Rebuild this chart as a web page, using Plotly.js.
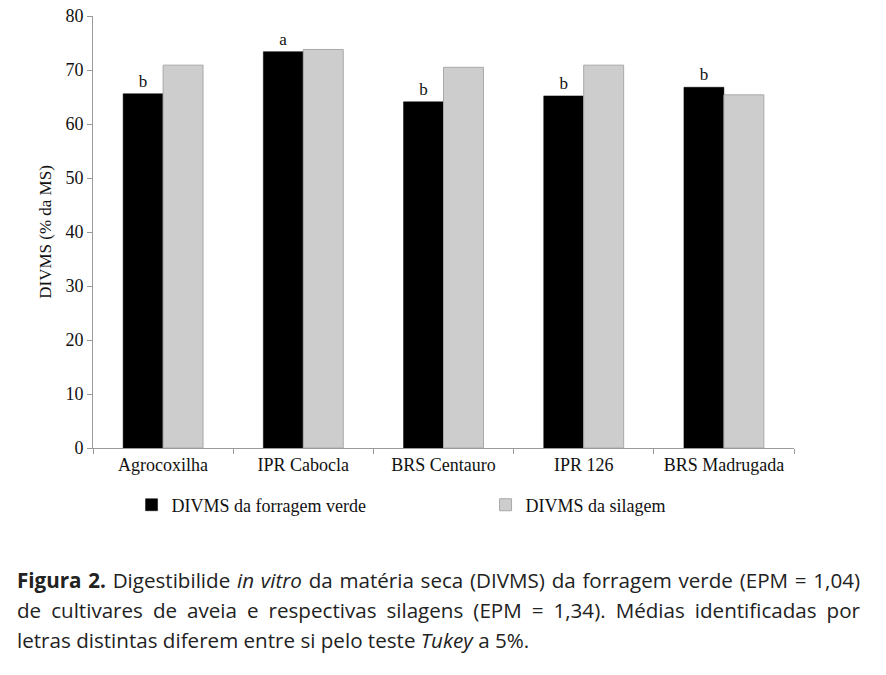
<!DOCTYPE html>
<html>
<head>
<meta charset="utf-8">
<script src="https://cdn.plot.ly/plotly-3.0.1.min.js"></script>
<style>
  html, body { margin: 0; padding: 0; background: #fff; }
  #wrap { position: relative; width: 886px; height: 675px; }
  #chart { position: absolute; left: 0; top: 0; width: 886px; height: 675px; }
  #caption {
    position: absolute; left: 17px; top: 565px; width: 843px;
    font-family: "Open Sans", sans-serif; font-size: 20.6px; line-height: 30px;
    color: #222;
  }
  #caption .j { text-align: justify; text-align-last: justify; white-space: nowrap; }
  #caption .l { text-align: left; white-space: nowrap; }
</style>
</head>
<body>
<div id="wrap">
  <div id="chart"></div>
  <div id="caption">
    <div class="j"><b>Figura 2.</b> Digestibilide <i>in vitro</i> da matéria seca (DIVMS) da forragem verde (EPM = 1,04)</div>
    <div class="j">de cultivares de aveia e respectivas silagens (EPM = 1,34). Médias identificadas por</div>
    <div class="l">letras distintas diferem entre si pelo teste <i>Tukey</i> a 5%.</div>
  </div>
</div>
<script>
const categories = ["Agrocoxilha", "IPR Cabocla", "BRS Centauro", "IPR 126", "BRS Madrugada"];
const forragemVerde = [65.6, 73.4, 64.1, 65.2, 66.8];
const silagem = [70.9, 73.8, 70.5, 70.9, 65.4];
const letters = ["b", "a", "b", "b", "b"];
const seriesNames = ["DIVMS da forragem verde", "DIVMS da silagem"];
const yTitle = "DIVMS (% da MS)";

const serif = "Liberation Serif, Times New Roman, serif";

const traces = [
  {
    type: "bar", x: categories, y: forragemVerde, name: seriesNames[0],
    marker: { color: "#000000", line: { color: "#000000", width: 0.5 } },
    text: letters, textposition: "outside", cliponaxis: false,
    textfont: { family: serif, size: 17, color: "#111" },
    hoverinfo: "x+y", legend: "legend"
  },
  {
    type: "bar", x: categories, y: silagem, name: seriesNames[1],
    marker: { color: "#cdcdcd", line: { color: "#a9a9a9", width: 1 } },
    hoverinfo: "x+y", legend: "legend2"
  }
];

const legendFont = { family: serif, size: 18, color: "#111" };

const layout = {
  width: 886, height: 675,
  margin: { l: 93, r: 92, t: 16, b: 227 },
  paper_bgcolor: "#ffffff", plot_bgcolor: "#ffffff",
  barmode: "group", bargap: 0.43, bargroupgap: 0,
  font: { family: serif, size: 17, color: "#111" },
  xaxis: {
    type: "category", showline: true, linecolor: "#9a9a9a", linewidth: 1,
    ticks: "outside", tickson: "boundaries", ticklen: 5, tickcolor: "#9a9a9a",
    showgrid: false, zeroline: false,
    tickfont: { family: serif, size: 18, color: "#111" }
  },
  yaxis: {
    range: [0, 80], dtick: 10, showline: true, linecolor: "#9a9a9a", linewidth: 1,
    ticks: "outside", ticklen: 5, tickcolor: "#9a9a9a", showgrid: false, zeroline: false,
    tickfont: { family: serif, size: 18, color: "#111" },
    title: { text: yTitle, font: { family: serif, size: 17, color: "#111" }, standoff: 9 }
  },
  showlegend: true,
  legend: {
    orientation: "h", x: 0.055, xanchor: "left", y: -0.132, yanchor: "middle",
    font: legendFont
  },
  legend2: {
    orientation: "h", x: 0.56, xanchor: "left", y: -0.132, yanchor: "middle",
    font: legendFont
  }
};

Plotly.newPlot("chart", traces, layout, { displayModeBar: false, staticPlot: true });
</script>
</body>
</html>
